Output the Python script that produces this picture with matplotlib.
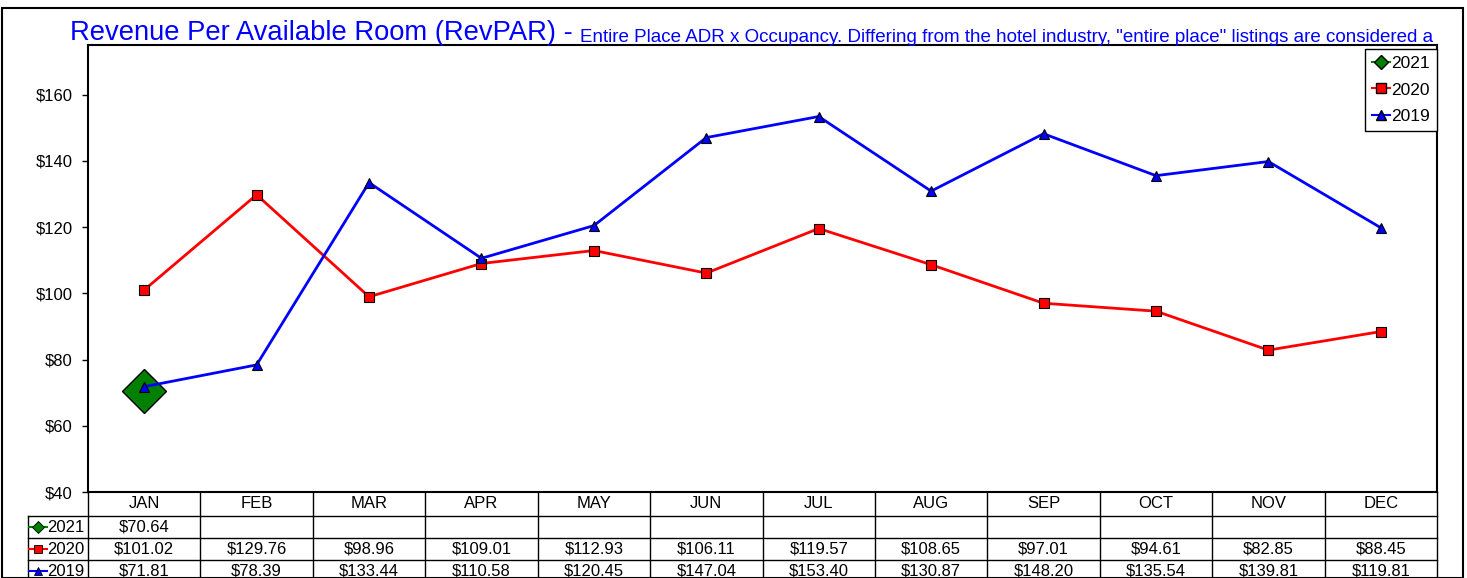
import matplotlib
matplotlib.use('Agg')
import matplotlib.pyplot as plt
from matplotlib.patches import Rectangle
from matplotlib.lines import Line2D

plt.rcParams['font.family'] = ['Liberation Sans', 'DejaVu Sans']

# data
months = ['JAN', 'FEB', 'MAR', 'APR', 'MAY', 'JUN', 'JUL', 'AUG', 'SEP', 'OCT', 'NOV', 'DEC']
rev_2021 = [70.64]
rev_2020 = [101.02, 129.76, 98.96, 109.01, 112.93, 106.11, 119.57, 108.65, 97.01, 94.61, 82.85, 88.45]
rev_2019 = [71.81, 78.39, 133.44, 110.58, 120.45, 147.04, 153.40, 130.87, 148.20, 135.54, 139.81, 119.81]
years = ['2021', '2020', '2019']
yticks = [40, 60, 80, 100, 120, 140, 160]

title_main = 'Revenue Per Available Room (RevPAR) - '
title_sub = ('Entire Place ADR x Occupancy. Differing from the hotel industry, '
             '"entire place" listings are considered a')

W, H = 1467, 578
fig = plt.figure(figsize=(W / 100, H / 100), dpi=100)
ax = fig.add_axes([88 / W, (H - 492) / H, (1437 - 88) / W, (492 - 45) / H])

x = list(range(len(months)))
ax.plot(x[:len(rev_2021)], rev_2021, color='green', marker='D', markersize=22,
        markeredgecolor='black', markeredgewidth=1, lw=2, zorder=3)
ax.plot(x, rev_2020, color='red', marker='s', markersize=7,
        markeredgecolor='black', markeredgewidth=0.8, lw=2, zorder=4)
ax.plot(x, rev_2019, color='blue', marker='^', markersize=7,
        markeredgecolor='black', markeredgewidth=0.8, lw=2, zorder=5)

ax.set_xlim(-0.5, len(months) - 0.5)
ax.set_ylim(40, 175)
ax.set_yticks(yticks)
ax.set_yticklabels([f'${v}' for v in yticks], fontsize=12)
ax.tick_params(axis='y', length=4, width=1, pad=7)
ax.set_xticks([])
for s in ax.spines.values():
    s.set_linewidth(1.5)

# legend
handles = [Line2D([], [], color='green', marker='D', markersize=7, markeredgecolor='black', lw=1.5),
           Line2D([], [], color='red', marker='s', markersize=7, markeredgecolor='black', lw=1.5),
           Line2D([], [], color='blue', marker='^', markersize=7, markeredgecolor='black', lw=1.5)]
leg = ax.legend(handles, years, loc='upper right', bbox_to_anchor=(1, 1 - 4 / 447), fontsize=12.5,
                handlelength=1.0, handletextpad=0.1, borderpad=0.4, labelspacing=0.65,
                fancybox=False, edgecolor='black', framealpha=1, borderaxespad=0)
leg.get_frame().set_linewidth(1)

# data table under the axes
trans = ax.get_xaxis_transform()
ph = 492 - 45
hdr_h = 24 / ph
row_h = 22 / ph
lab_left = (28 - 88) / (1437 - 88)
series = [rev_2021, rev_2020, rev_2019]
colors = ['green', 'red', 'blue']
markers = ['D', 's', '^']
n_rows = len(series)

bottom = -hdr_h - row_h * (n_rows + 0.2)
for i in range(len(months) + 1):
    ax.plot([i - 0.5, i - 0.5], [0, bottom], transform=trans, color='black', lw=1, clip_on=False)
for r in range(n_rows + 1):
    yy = -hdr_h - r * row_h
    ax.plot([lab_left, 1], [yy, yy], transform=ax.transAxes, color='black', lw=1, clip_on=False)
ax.plot([lab_left, lab_left], [-hdr_h, bottom], transform=ax.transAxes, color='black', lw=1, clip_on=False)

for i, m in enumerate(months):
    ax.text(i, -hdr_h / 2, m, transform=trans, ha='center', va='center', fontsize=12)
for r, vals in enumerate(series):
    yc = -hdr_h - (r + 0.5) * row_h
    for i, v in enumerate(vals):
        ax.text(i, yc, f'${v:.2f}', transform=trans, ha='center', va='center', fontsize=12)
    ax.plot([lab_left + 0.001, lab_left + 0.014], [yc, yc], transform=ax.transAxes,
            color=colors[r], lw=1.5, clip_on=False)
    ax.plot([lab_left + 0.0075], [yc], transform=ax.transAxes, color=colors[r], marker=markers[r],
            markersize=6, markeredgecolor='black', markeredgewidth=0.6, clip_on=False)
    ax.text(lab_left + 0.0145, yc, years[r], transform=ax.transAxes, ha='left', va='center', fontsize=12)

# title
t1 = fig.text(70 / W, 1 - 40 / H, title_main, color='blue', fontsize=19.7, ha='left', va='baseline')
ax.annotate(title_sub, xy=(1, 0), xycoords=t1, ha='left', va='bottom', color='blue', fontsize=13.5,
            annotation_clip=False)

# outer border
fig.patches.append(Rectangle((2 / W, 0), (1463 - 2) / W, 1 - 8 / H, transform=fig.transFigure,
                             fill=False, edgecolor='black', lw=1.5))

fig.savefig('out.png', dpi=100)
